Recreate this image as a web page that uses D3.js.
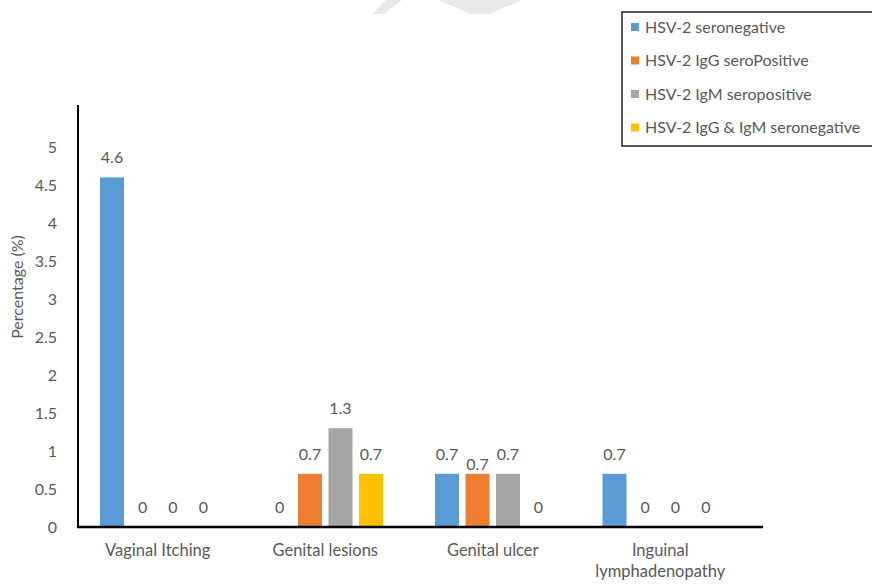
<!DOCTYPE html>
<html>
<head>
<meta charset="utf-8">
<script src="https://cdn.jsdelivr.net/npm/d3@7"></script>
<style>
  html, body { margin: 0; padding: 0; background: #fff; }
  svg { display: block; }
  text { font-family: Lato, "Open Sans", sans-serif; fill: #595959; }
</style>
</head>
<body>
<svg id="chart" width="872" height="585"></svg>
<script>
// Symptoms by HSV-2 serostatus (percentage)
const categories = ["Vaginal Itching", "Genital lesions", "Genital ulcer", "Inguinal\nlymphadenopathy"];
const seriesNames = ["HSV-2 seronegative", "HSV-2 IgG seroPositive", "HSV-2 IgM seropositive", "HSV-2 IgG & IgM seronegative"];
const seronegative   = [4.6, 0,   0.7, 0.7];
const iggPositive    = [0,   0.7, 0.7, 0];
const igmPositive    = [0,   1.3, 0.7, 0];
const iggIgmNegative = [0,   0.7, 0,   0];
const yTicks = [0, 0.5, 1, 1.5, 2, 2.5, 3, 3.5, 4, 4.5, 5];

const seriesValues = [seronegative, iggPositive, igmPositive, iggIgmNegative];
const colors = ["#5b9bd5", "#ed7d31", "#a5a5a5", "#ffc000"];

const svg = d3.select("#chart");

// faint background mark at the top edge
svg.append("g").attr("fill", "#e9e9e9")
  .selectAll("polygon")
  .data([
    [[386, 0], [402, 0], [384, 14], [372, 14]],
    [[438, 0], [522, 0], [490, 14], [470, 14]]
  ])
  .join("polygon")
  .attr("points", d => d.map(p => p.join(",")).join(" "));

const plot = { left: 78, right: 763, top: 105, bottom: 527 };

const y = d3.scaleLinear().domain([0, 5.5]).range([plot.bottom, plot.bottom - 5.5 * 76]);

const x0 = d3.scaleBand().domain(categories).range([74, 744]);
const x1 = d3.scaleBand().domain(seriesNames).range([-57.75, 57.75]).paddingInner(0.213);

// y tick labels (no tick marks)
const yAxis = d3.axisLeft(y).tickValues(yTicks).tickSize(0).tickPadding(0).tickFormat(d3.format("~g"));
const gy = svg.append("g").attr("transform", "translate(57,0)").call(yAxis);
gy.select(".domain").remove();
gy.selectAll("text").attr("font-size", 16).style("font-family", "Lato, sans-serif").attr("fill", "#595959");

// bars
const groups = svg.append("g").selectAll("g")
  .data(categories)
  .join("g")
  .attr("transform", c => `translate(${x0(c) + x0.bandwidth() / 2},0)`);

const cells = groups.selectAll("g")
  .data((c, i) => seriesNames.map((s, j) => ({ s, j, v: seriesValues[j][i], cat: i })))
  .join("g");

cells.append("rect")
  .attr("x", d => x1(d.s))
  .attr("width", x1.bandwidth())
  .attr("y", d => y(d.v))
  .attr("height", d => y(0) - y(d.v))
  .attr("fill", d => colors[d.j]);

// value labels; the crowded label in "Genital ulcer" sits a little lower
const nudge = (d) => (d.cat === 2 && d.j === 1 ? 10 : 0);
cells.append("text")
  .attr("x", d => x1(d.s) + x1.bandwidth() / 2)
  .attr("y", d => y(d.v) - 14 + nudge(d))
  .attr("text-anchor", "middle")
  .attr("font-size", 16)
  .text(d => d3.format("~g")(d.v));

// axes lines
svg.append("line")
  .attr("x1", plot.left).attr("x2", plot.left)
  .attr("y1", plot.top).attr("y2", plot.bottom + 1)
  .attr("stroke", "#000").attr("stroke-width", 2);
svg.append("line")
  .attr("x1", plot.left - 1).attr("x2", plot.right)
  .attr("y1", plot.bottom).attr("y2", plot.bottom)
  .attr("stroke", "#000").attr("stroke-width", 2.5);

// category labels
svg.append("g").selectAll("text")
  .data(categories)
  .join("text")
  .attr("x", c => x0(c) + x0.bandwidth() / 2)
  .attr("y", 556)
  .attr("text-anchor", "middle")
  .attr("font-size", 16.5)
  .each(function (c) {
    const lines = c.split("\n");
    d3.select(this).selectAll("tspan")
      .data(lines)
      .join("tspan")
      .attr("x", x0(c) + x0.bandwidth() / 2)
      .attr("dy", (l, i) => (i === 0 ? 0 : 21))
      .text(l => l);
  });

// y axis title
svg.append("text")
  .attr("transform", "translate(23,287) rotate(-90)")
  .attr("text-anchor", "middle")
  .attr("font-size", 16)
  .text("Percentage (%)");

// legend
const legend = svg.append("g");
legend.append("rect")
  .attr("x", 622).attr("y", 12)
  .attr("width", 252).attr("height", 134)
  .attr("fill", "#fff").attr("stroke", "#222").attr("stroke-width", 1.5);
const items = legend.selectAll("g.item")
  .data(seriesNames)
  .join("g")
  .attr("class", "item")
  .attr("transform", (d, i) => `translate(631,${27 + i * 33.5})`);
items.append("rect")
  .attr("x", 0).attr("y", -4)
  .attr("width", 8).attr("height", 8)
  .attr("fill", (d, i) => colors[i]);
items.append("text")
  .attr("x", 14).attr("y", 5.5)
  .attr("font-size", 16)
  .text(d => d);
</script>
</body>
</html>
